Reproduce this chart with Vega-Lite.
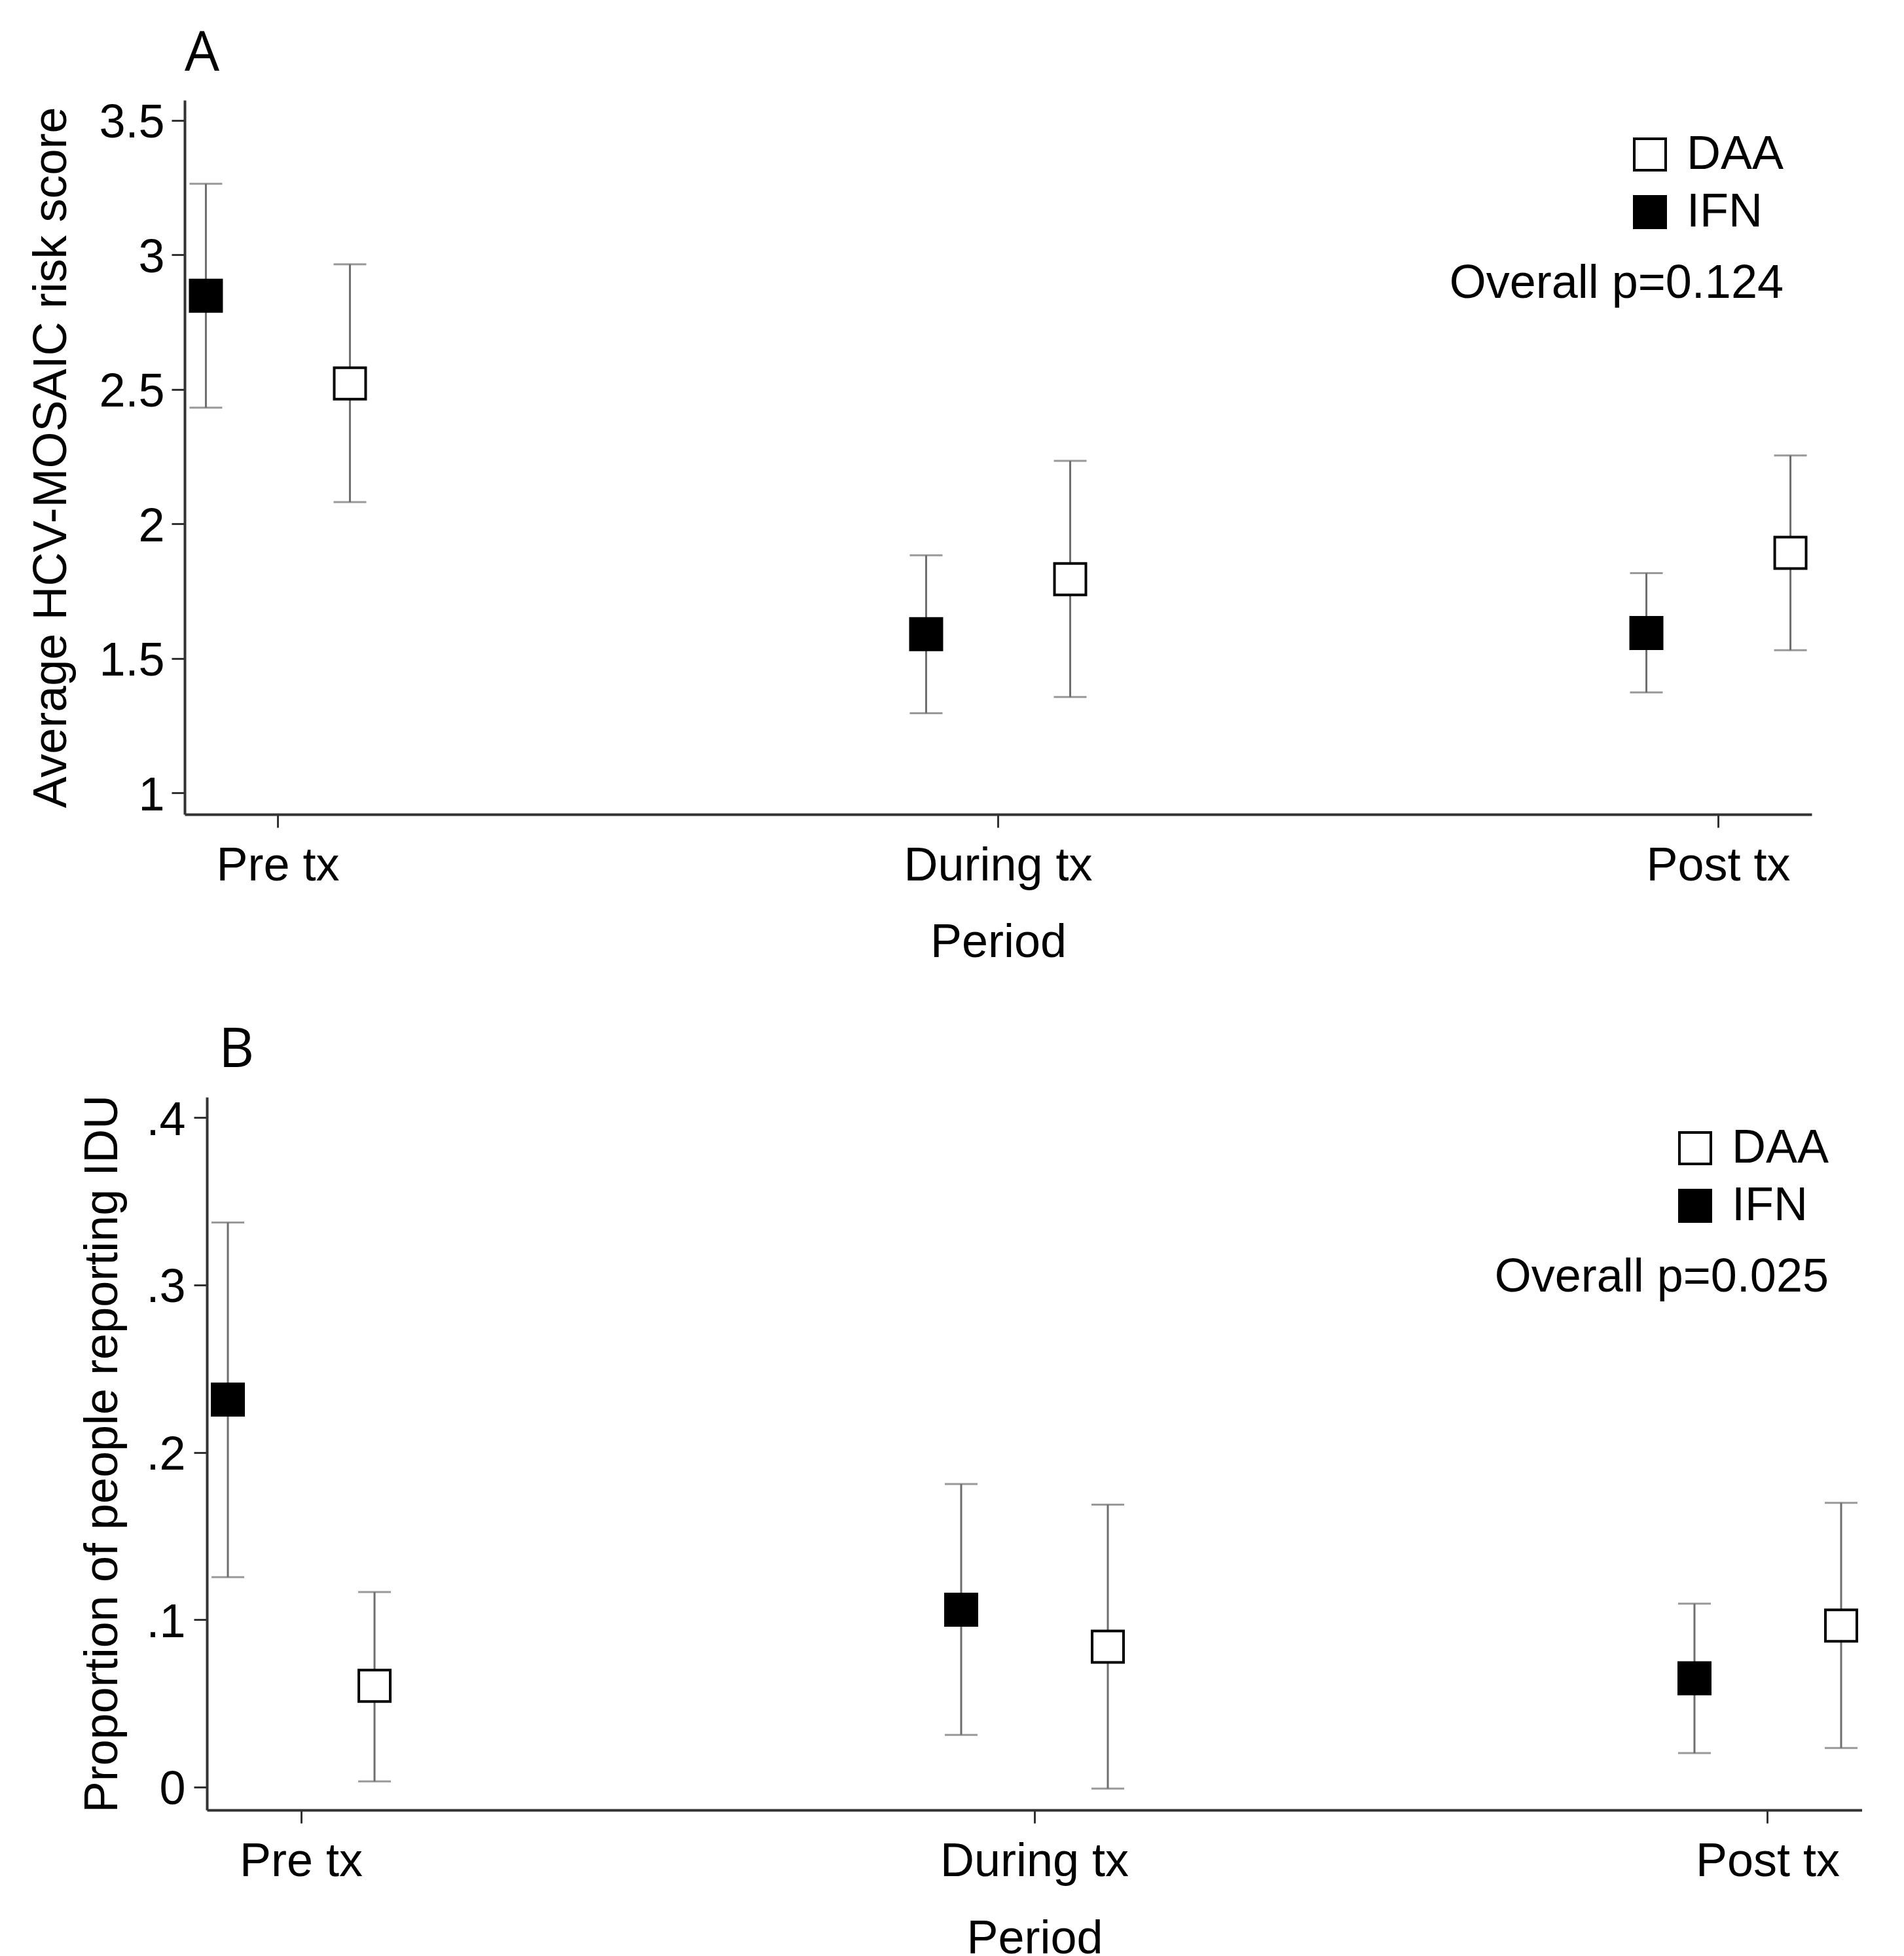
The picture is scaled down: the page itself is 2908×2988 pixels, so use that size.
{
  "$schema": "https://vega.github.io/schema/vega-lite/v6.json",
  "background": "white",
  "padding": {"left": 41, "top": 40, "right": 0, "bottom": 0},
  "datasets": {
    "risk": [
      {"Period": "Pre tx", "Group": "IFN", "mean": 2.848, "lo": 2.432, "hi": 3.264},
      {"Period": "Pre tx", "Group": "DAA", "mean": 2.522, "lo": 2.081, "hi": 2.965},
      {"Period": "During tx", "Group": "IFN", "mean": 1.590, "lo": 1.296, "hi": 1.883},
      {"Period": "During tx", "Group": "DAA", "mean": 1.794, "lo": 1.356, "hi": 2.234},
      {"Period": "Post tx", "Group": "IFN", "mean": 1.594, "lo": 1.373, "hi": 1.817},
      {"Period": "Post tx", "Group": "DAA", "mean": 1.892, "lo": 1.530, "hi": 2.254}
    ],
    "idu": [
      {"Period": "Pre tx", "Group": "IFN", "mean": 0.2315, "lo": 0.1254, "hi": 0.3373},
      {"Period": "Pre tx", "Group": "DAA", "mean": 0.0605, "lo": 0.0034, "hi": 0.1165},
      {"Period": "During tx", "Group": "IFN", "mean": 0.106, "lo": 0.0312, "hi": 0.1811},
      {"Period": "During tx", "Group": "DAA", "mean": 0.0839, "lo": -0.0009, "hi": 0.1687},
      {"Period": "Post tx", "Group": "IFN", "mean": 0.065, "lo": 0.0203, "hi": 0.1096},
      {"Period": "Post tx", "Group": "DAA", "mean": 0.0965, "lo": 0.0234, "hi": 0.1698}
    ]
  },
  "config": {
    "view": {"stroke": null},
    "font": "Liberation Sans",
    "axis": {
      "grid": false,
      "domainColor": "#333333",
      "domainWidth": 4,
      "tickColor": "#333333",
      "tickWidth": 3,
      "tickSize": 20,
      "labelFont": "Liberation Sans",
      "labelFontSize": 72,
      "labelColor": "black",
      "titleFont": "Liberation Sans",
      "titleFontSize": 72,
      "titleFontWeight": "normal",
      "titleColor": "black",
      "labelLimit": 0,
      "titleLimit": 0
    },
    "legend": {
      "orient": "none",
      "symbolType": "square",
      "symbolSize": 2300,
      "symbolStrokeColor": "black",
      "symbolStrokeWidth": 4,
      "symbolOpacity": 1,
      "labelFont": "Liberation Sans",
      "labelFontSize": 72,
      "labelColor": "black",
      "labelOffset": 20,
      "labelLimit": 0,
      "rowPadding": 16,
      "titleOrient": "bottom",
      "titleAnchor": "end",
      "titleFont": "Liberation Sans",
      "titleFontSize": 72,
      "titleFontWeight": "normal",
      "titleColor": "black",
      "titleLimit": 0,
      "titlePadding": 38
    },
    "title": {"font": "Open Sans", "fontSize": 84, "fontWeight": "normal", "color": "black", "anchor": "start", "frame": "group", "baseline": "alphabetic"}
  },
  "bounds": "flush",
  "spacing": 432,
  "vconcat": [
    {
      "width": 2485,
      "height": 1091,
      "data": {"name": "risk"},
      "title": {"text": "A", "offset": 26, "dx": 0},
      "encoding": {
        "x": {
          "field": "Period", "type": "nominal",
          "scale": {"type": "band", "domain": ["Pre tx", "During tx", "Post tx"], "paddingInner": 0.8, "paddingOuter": 0.0295},
          "axis": {"title": "Period", "labelAngle": 0, "labelPadding": 23, "bandPosition": 0.5, "titleBaseline": "alphabetic", "titleY": 217}
        },
        "xOffset": {"field": "Group", "type": "nominal", "scale": {"type": "point", "domain": ["IFN", "DAA"], "padding": 0}}
      },
      "layer": [
        {
          "mark": {"type": "rule", "color": "#6e6e6e", "strokeWidth": 3},
          "encoding": {
            "y": {"field": "lo", "type": "quantitative", "scale": {"domain": [0.92, 3.575], "nice": false, "zero": false},
              "axis": {"title": "Average HCV-MOSAIC risk score", "values": [1, 1.5, 2, 2.5, 3, 3.5], "format": "~g", "labelPadding": 11, "labelOffset": 4, "titleX": -182, "titleBaseline": "alphabetic"}},
            "y2": {"field": "hi"}
          }
        },
        {
          "mark": {"type": "tick", "color": "#6e6e6e", "thickness": 3, "size": 50, "orient": "horizontal"},
          "encoding": {"y": {"field": "lo", "type": "quantitative"}}
        },
        {
          "mark": {"type": "tick", "color": "#6e6e6e", "thickness": 3, "size": 50, "orient": "horizontal"},
          "encoding": {"y": {"field": "hi", "type": "quantitative"}}
        },
        {
          "mark": {"type": "point", "shape": "square", "filled": true, "stroke": "black", "strokeWidth": 4, "size": 2300, "opacity": 1},
          "encoding": {
            "y": {"field": "mean", "type": "quantitative"},
            "fill": {"field": "Group", "type": "nominal", "scale": {"domain": ["DAA", "IFN"], "range": ["white", "black"]},
              "legend": {"title": "Overall p=0.124", "legendX": 1932, "legendY": 47}}
          }
        }
      ]
    },
    {
      "width": 2562,
      "height": 1089,
      "data": {"name": "idu"},
      "title": {"text": "B", "offset": 24, "dx": 52},
      "encoding": {
        "x": {
          "field": "Period", "type": "nominal",
          "scale": {"type": "band", "domain": ["Pre tx", "During tx", "Post tx"], "paddingInner": 0.8, "paddingOuter": 0.0286, "range": [34, 2562]},
          "axis": {"title": "Period", "labelAngle": 0, "labelPadding": 23, "bandPosition": 0.5, "titleBaseline": "alphabetic", "titleY": 218}
        },
        "xOffset": {"field": "Group", "type": "nominal", "scale": {"type": "point", "domain": ["IFN", "DAA"], "padding": 0}}
      },
      "layer": [
        {
          "mark": {"type": "rule", "color": "#6e6e6e", "strokeWidth": 3},
          "encoding": {
            "y": {"field": "lo", "type": "quantitative", "scale": {"domain": [-0.0137, 0.4122], "nice": false, "zero": false},
              "axis": {"title": "Proportion of people reporting IDU", "values": [0, 0.1, 0.2, 0.3, 0.4], "labelExpr": "datum.value == 0 ? '0' : replace(format(datum.value, '.1f'), '0.', '.')", "labelPadding": 13, "labelOffset": 4, "offset": -34, "titleX": -138, "titleBaseline": "alphabetic"}},
            "y2": {"field": "hi"}
          }
        },
        {
          "mark": {"type": "tick", "color": "#6e6e6e", "thickness": 3, "size": 50, "orient": "horizontal"},
          "encoding": {"y": {"field": "lo", "type": "quantitative"}}
        },
        {
          "mark": {"type": "tick", "color": "#6e6e6e", "thickness": 3, "size": 50, "orient": "horizontal"},
          "encoding": {"y": {"field": "hi", "type": "quantitative"}}
        },
        {
          "mark": {"type": "point", "shape": "square", "filled": true, "stroke": "black", "strokeWidth": 4, "size": 2300, "opacity": 1},
          "encoding": {
            "y": {"field": "mean", "type": "quantitative"},
            "fill": {"field": "Group", "type": "nominal", "scale": {"domain": ["DAA", "IFN"], "range": ["white", "black"]},
              "legend": {"title": "Overall p=0.025", "legendX": 2001, "legendY": 42}}
          }
        }
      ]
    }
  ],
  "resolve": {"scale": {"fill": "independent", "x": "independent", "y": "independent", "xOffset": "independent"}, "legend": {"fill": "independent"}}
}
